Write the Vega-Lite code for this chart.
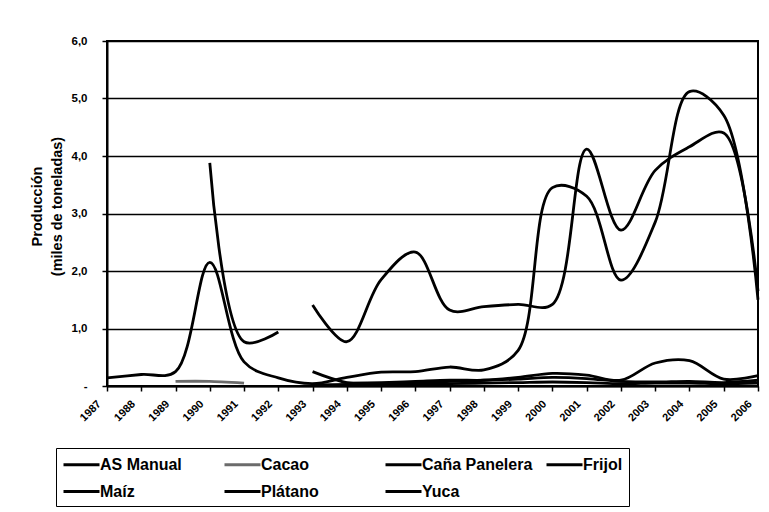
{
  "$schema": "https://vega.github.io/schema/vega-lite/v6.json",
  "width": 651,
  "height": 345,
  "autosize": {"type": "none"},
  "padding": {"left": 107, "top": 41, "right": 11, "bottom": 126},
  "background": "white",
  "config": {"view": {"stroke": "black", "strokeWidth": 2}, "font": "Liberation Sans"},
  "data": {"values": [
    {"series": "Maíz", "year": 1987, "value": 0.14},
    {"series": "Maíz", "year": 1988, "value": 0.2},
    {"series": "Maíz", "year": 1989, "value": 0.25},
    {"series": "Maíz", "year": 1990, "value": 2.15},
    {"series": "Maíz", "year": 1991, "value": 0.42},
    {"series": "Maíz", "year": 1992, "value": 0.14},
    {"series": "Maíz", "year": 1993, "value": 0.04},
    {"series": "Maíz", "year": 1994, "value": 0.15},
    {"series": "Maíz", "year": 1995, "value": 0.24},
    {"series": "Maíz", "year": 1996, "value": 0.25},
    {"series": "Maíz", "year": 1997, "value": 0.33},
    {"series": "Maíz", "year": 1998, "value": 0.28},
    {"series": "Maíz", "year": 1999, "value": 0.62},
    {"series": "Maíz", "year": 2000, "value": 3.45},
    {"series": "Maíz", "year": 2001, "value": 3.3},
    {"series": "Maíz", "year": 2002, "value": 1.84},
    {"series": "Maíz", "year": 2003, "value": 2.85},
    {"series": "Maíz", "year": 2004, "value": 5.12},
    {"series": "Maíz", "year": 2005, "value": 4.71},
    {"series": "Maíz", "year": 2006, "value": 1.5},
    {"series": "Plátano", "year": 1993, "value": 1.41},
    {"series": "Plátano", "year": 1994, "value": 0.77},
    {"series": "Plátano", "year": 1995, "value": 1.85},
    {"series": "Plátano", "year": 1996, "value": 2.33},
    {"series": "Plátano", "year": 1997, "value": 1.32},
    {"series": "Plátano", "year": 1998, "value": 1.38},
    {"series": "Plátano", "year": 1999, "value": 1.42},
    {"series": "Plátano", "year": 2000, "value": 1.42},
    {"series": "Plátano", "year": 2001, "value": 4.12},
    {"series": "Plátano", "year": 2002, "value": 2.71},
    {"series": "Plátano", "year": 2003, "value": 3.75},
    {"series": "Plátano", "year": 2004, "value": 4.16},
    {"series": "Plátano", "year": 2005, "value": 4.4},
    {"series": "Plátano", "year": 2006, "value": 1.65},
    {"series": "Yuca", "year": 1990, "value": 3.88},
    {"series": "Yuca", "year": 1991, "value": 0.77},
    {"series": "Yuca", "year": 1992, "value": 0.94},
    {"series": "Cacao", "year": 1989, "value": 0.08},
    {"series": "Cacao", "year": 1990, "value": 0.08},
    {"series": "Cacao", "year": 1991, "value": 0.05},
    {"series": "Caña Panelera", "year": 1993, "value": 0.25},
    {"series": "Caña Panelera", "year": 1994, "value": 0.06},
    {"series": "Caña Panelera", "year": 1995, "value": 0.04},
    {"series": "Caña Panelera", "year": 1996, "value": 0.05},
    {"series": "Caña Panelera", "year": 1997, "value": 0.08},
    {"series": "Caña Panelera", "year": 1998, "value": 0.1},
    {"series": "Caña Panelera", "year": 1999, "value": 0.15},
    {"series": "Caña Panelera", "year": 2000, "value": 0.22},
    {"series": "Caña Panelera", "year": 2001, "value": 0.19},
    {"series": "Caña Panelera", "year": 2002, "value": 0.1},
    {"series": "Caña Panelera", "year": 2003, "value": 0.4},
    {"series": "Caña Panelera", "year": 2004, "value": 0.44},
    {"series": "Caña Panelera", "year": 2005, "value": 0.12},
    {"series": "Caña Panelera", "year": 2006, "value": 0.18},
    {"series": "Frijol", "year": 1994, "value": 0.05},
    {"series": "Frijol", "year": 1995, "value": 0.06},
    {"series": "Frijol", "year": 1996, "value": 0.08},
    {"series": "Frijol", "year": 1997, "value": 0.1},
    {"series": "Frijol", "year": 1998, "value": 0.1},
    {"series": "Frijol", "year": 1999, "value": 0.12},
    {"series": "Frijol", "year": 2000, "value": 0.15},
    {"series": "Frijol", "year": 2001, "value": 0.13},
    {"series": "Frijol", "year": 2002, "value": 0.08},
    {"series": "Frijol", "year": 2003, "value": 0.07},
    {"series": "Frijol", "year": 2004, "value": 0.08},
    {"series": "Frijol", "year": 2005, "value": 0.06},
    {"series": "Frijol", "year": 2006, "value": 0.1},
    {"series": "AS Manual", "year": 1993, "value": 0.02},
    {"series": "AS Manual", "year": 1994, "value": 0.03},
    {"series": "AS Manual", "year": 1995, "value": 0.02},
    {"series": "AS Manual", "year": 1996, "value": 0.03},
    {"series": "AS Manual", "year": 1997, "value": 0.04},
    {"series": "AS Manual", "year": 1998, "value": 0.05},
    {"series": "AS Manual", "year": 1999, "value": 0.06},
    {"series": "AS Manual", "year": 2000, "value": 0.07},
    {"series": "AS Manual", "year": 2001, "value": 0.06},
    {"series": "AS Manual", "year": 2002, "value": 0.04},
    {"series": "AS Manual", "year": 2003, "value": 0.05},
    {"series": "AS Manual", "year": 2004, "value": 0.05},
    {"series": "AS Manual", "year": 2005, "value": 0.04},
    {"series": "AS Manual", "year": 2006, "value": 0.05}
  ]},
  "mark": {"type": "line", "interpolate": "catmull-rom", "strokeWidth": 2.8},
  "encoding": {
    "x": {
      "field": "year",
      "type": "quantitative",
      "scale": {"domain": [1987, 2006], "nice": false, "zero": false},
      "axis": {
        "values": [1987,1988,1989,1990,1991,1992,1993,1994,1995,1996,1997,1998,1999,2000,2001,2002,2003,2004,2005,2006],
        "format": "d",
        "labelAngle": -45,
        "labelAlign": "right",
        "labelBaseline": "middle",
        "labelFontSize": 11,
        "labelFontWeight": "bold",
        "labelColor": "black",
        "labelOverlap": false,
        "labelPadding": 11,
        "labelOffset": -8,
        "tickColor": "black",
        "tickSize": 5,
        "tickWidth": 1.5,
        "domainColor": "black",
        "domainWidth": 2,
        "grid": false,
        "title": null
      }
    },
    "y": {
      "field": "value",
      "type": "quantitative",
      "scale": {"domain": [0, 6], "nice": false},
      "axis": {
        "values": [0, 1, 2, 3, 4, 5, 6],
        "labelExpr": "datum.value == 0 ? '-' : replace(format(datum.value, '.1f'), '.', ',')",
        "labelFontSize": 11.5,
        "labelFontWeight": "bold",
        "labelColor": "black",
        "labelPadding": 15,
        "tickColor": "black",
        "tickSize": 5,
        "tickWidth": 1.5,
        "domainColor": "black",
        "domainWidth": 2,
        "grid": true,
        "gridColor": "black",
        "gridWidth": 1.5,
        "gridOpacity": 1,
        "title": ["Producción", "(miles de toneladas)"],
        "titleFontSize": 14.5,
        "titleFontWeight": "bold",
        "titleColor": "black",
        "titleLineHeight": 20,
        "titleAngle": -90,
        "titleAlign": "center",
        "titleBaseline": "bottom",
        "titleX": -63,
        "titleY": 165
      }
    },
    "color": {
      "field": "series",
      "type": "nominal",
      "scale": {
        "domain": ["AS Manual", "Cacao", "Caña Panelera", "Frijol", "Maíz", "Plátano", "Yuca"],
        "range": ["black", "#6b6b6b", "black", "black", "black", "black", "black"]
      },
      "legend": {
        "orient": "none",
        "legendX": -51,
        "legendY": 407,
        "direction": "horizontal",
        "columns": 4,
        "gridAlign": "all",
        "title": null,
        "symbolType": "M-2,0L2,0",
        "symbolSize": 324,
        "symbolOffset": 9,
        "symbolStrokeWidth": 3,
        "labelFontSize": 16,
        "labelFontWeight": "bold",
        "labelColor": "black",
        "labelOffset": 8,
        "labelLimit": 0,
        "columnPadding": 7,
        "rowPadding": 8,
        "padding": 6,
        "strokeColor": "black"
      }
    }
  }
}
